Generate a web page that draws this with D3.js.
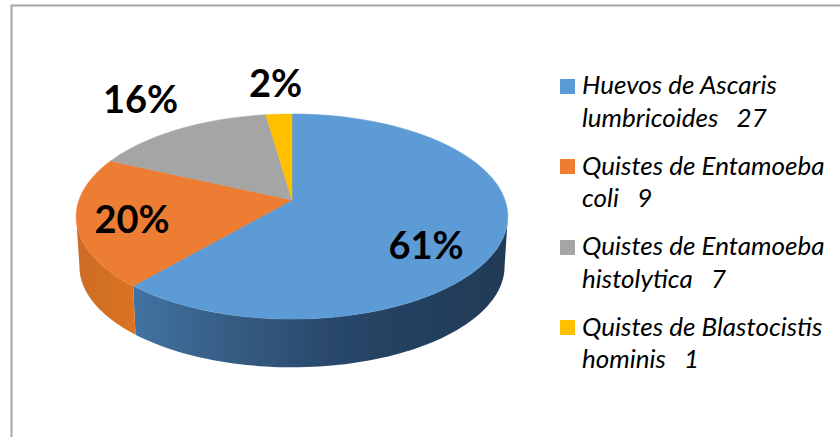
<!DOCTYPE html>
<html>
<head>
<meta charset="utf-8">
<style>
html,body{margin:0;padding:0;background:#fff;}
svg{display:block;}
text{font-family:Lato,"Liberation Sans",sans-serif;fill:#000;white-space:pre;}
</style>
<script src="https://d3js.org/d3.v7.min.js"></script>
</head>
<body>
<svg id="chart" width="840" height="437"></svg>
<script>
const categories = ["Huevos de Ascaris", "Quistes de Entamoeba", "Quistes de Entamoeba", "Quistes de Blastocistis"];
const secondLines = ["lumbricoides", "coli", "histolytica", "hominis"];
const values = [27, 9, 7, 1];
const percentLabels = ["61%", "20%", "16%", "2%"];
const topColors = ["#5b9bd5", "#ed7d31", "#a5a5a5", "#ffc000"];

const W = 840, H = 437;
const svg = d3.select("#chart");
const defs = svg.append("defs");

defs.append("filter").attr("id", "soft")
  .attr("x", "-5%").attr("y", "-5%").attr("width", "110%").attr("height", "110%")
  .append("feGaussianBlur").attr("stdDeviation", 0.6);

const blueWall = defs.append("linearGradient").attr("id", "wallBlue")
  .attr("gradientUnits", "userSpaceOnUse").attr("x1", 132).attr("x2", 505).attr("y1", 0).attr("y2", 0);
[[0, "#4273a3"], [0.3, "#34597f"], [0.6, "#264566"], [1, "#203a55"]].forEach(s =>
  blueWall.append("stop").attr("offset", s[0]).attr("stop-color", s[1]));
const orangeWall = defs.append("linearGradient").attr("id", "wallOrange")
  .attr("gradientUnits", "userSpaceOnUse").attr("x1", 78).attr("x2", 133).attr("y1", 0).attr("y2", 0);
[[0, "#cc6c26"], [1, "#dc7320"]].forEach(s =>
  orangeWall.append("stop").attr("offset", s[0]).attr("stop-color", s[1]));

// Frame
svg.append("path").attr("d", `M${W},5.5H11.5V${H}`)
  .attr("fill", "none").attr("stroke", "#a6a6a6").attr("stroke-width", 2);

// Perspective model of the disk
const cx = 292, cy = 200, rx = 213, ry = 99.9, persp = 6.2;
const depth = 50, lowerScale = 0.985;
const project = (a, lower) => {
  const x = Math.sin(a), z = -Math.cos(a), f = persp / (persp - z);
  const s = lower ? lowerScale : 1;
  return [cx + s * rx * x * f, cy + (lower ? depth : 0) + s * ry * z * f];
};
const pieLayout = d3.pie().sort(null).value(d => d);
const arcs = pieLayout(values);
const rimScale = d3.scaleLinear().domain([0, 1]);
const samples = (a0, a1, lower) => {
  rimScale.range([a0, a1]);
  return d3.range(0, 1.0001, 1 / 80).map(t => project(rimScale(t), lower));
};
const line = d3.line();

const marks = svg.append("g").attr("filter", "url(#soft)");

// Side wall (only the parts facing the viewer)
const tangent = Math.acos(-1 / persp);
const wallRange = d => [Math.max(d.startAngle, tangent), Math.min(d.endAngle, 2 * Math.PI - tangent)];
const wallFill = ["url(#wallBlue)", "url(#wallOrange)"];
marks.selectAll("path.wall").data(arcs.slice(0, 2)).join("path")
  .attr("class", "wall")
  .attr("fill", (d, i) => wallFill[i])
  .attr("d", d => {
    const [a0, a1] = wallRange(d);
    return line(samples(a0, a1, false).concat(samples(a1, a0, true))) + "Z";
  });

// Top face
marks.selectAll("path.top").data(arcs).join("path")
  .attr("class", "top")
  .attr("fill", (d, i) => topColors[i])
  .attr("stroke", (d, i) => topColors[i])
  .attr("stroke-width", 0.5)
  .attr("d", d => line([[cx, cy]].concat(samples(d.startAngle, d.endAngle, false))) + "Z");

// Percent labels
const labelPos = [[426, 259], [132, 233], [140.5, 113], [275.5, 97]];
svg.selectAll("text.pct").data(percentLabels).join("text")
  .attr("class", "pct")
  .attr("x", (d, i) => labelPos[i][0])
  .attr("y", (d, i) => labelPos[i][1])
  .attr("text-anchor", "middle")
  .attr("font-weight", 700)
  .attr("font-size", 38)
  .text(d => d);

// Legend
const swatchTop = [79, 159, 240, 320];
const line1Base = [94, 175, 255, 336];
const line2Base = [127, 207, 288, 368];
const legend = svg.append("g");
legend.selectAll("rect").data(topColors).join("rect")
  .attr("x", 560).attr("y", (d, i) => swatchTop[i])
  .attr("width", 15).attr("height", 15).attr("fill", d => d);
legend.selectAll("text.l1").data(categories).join("text")
  .attr("class", "l1").attr("x", 582).attr("y", (d, i) => line1Base[i])
  .attr("font-style", "italic").attr("font-size", 26).text(d => d);
legend.selectAll("text.l2").data(secondLines).join("text")
  .attr("class", "l2").attr("x", 582).attr("y", (d, i) => line2Base[i])
  .attr("font-style", "italic").attr("font-size", 26)
  .text((d, i) => `${d}   ${values[i]}`);
</script>
</body>
</html>
